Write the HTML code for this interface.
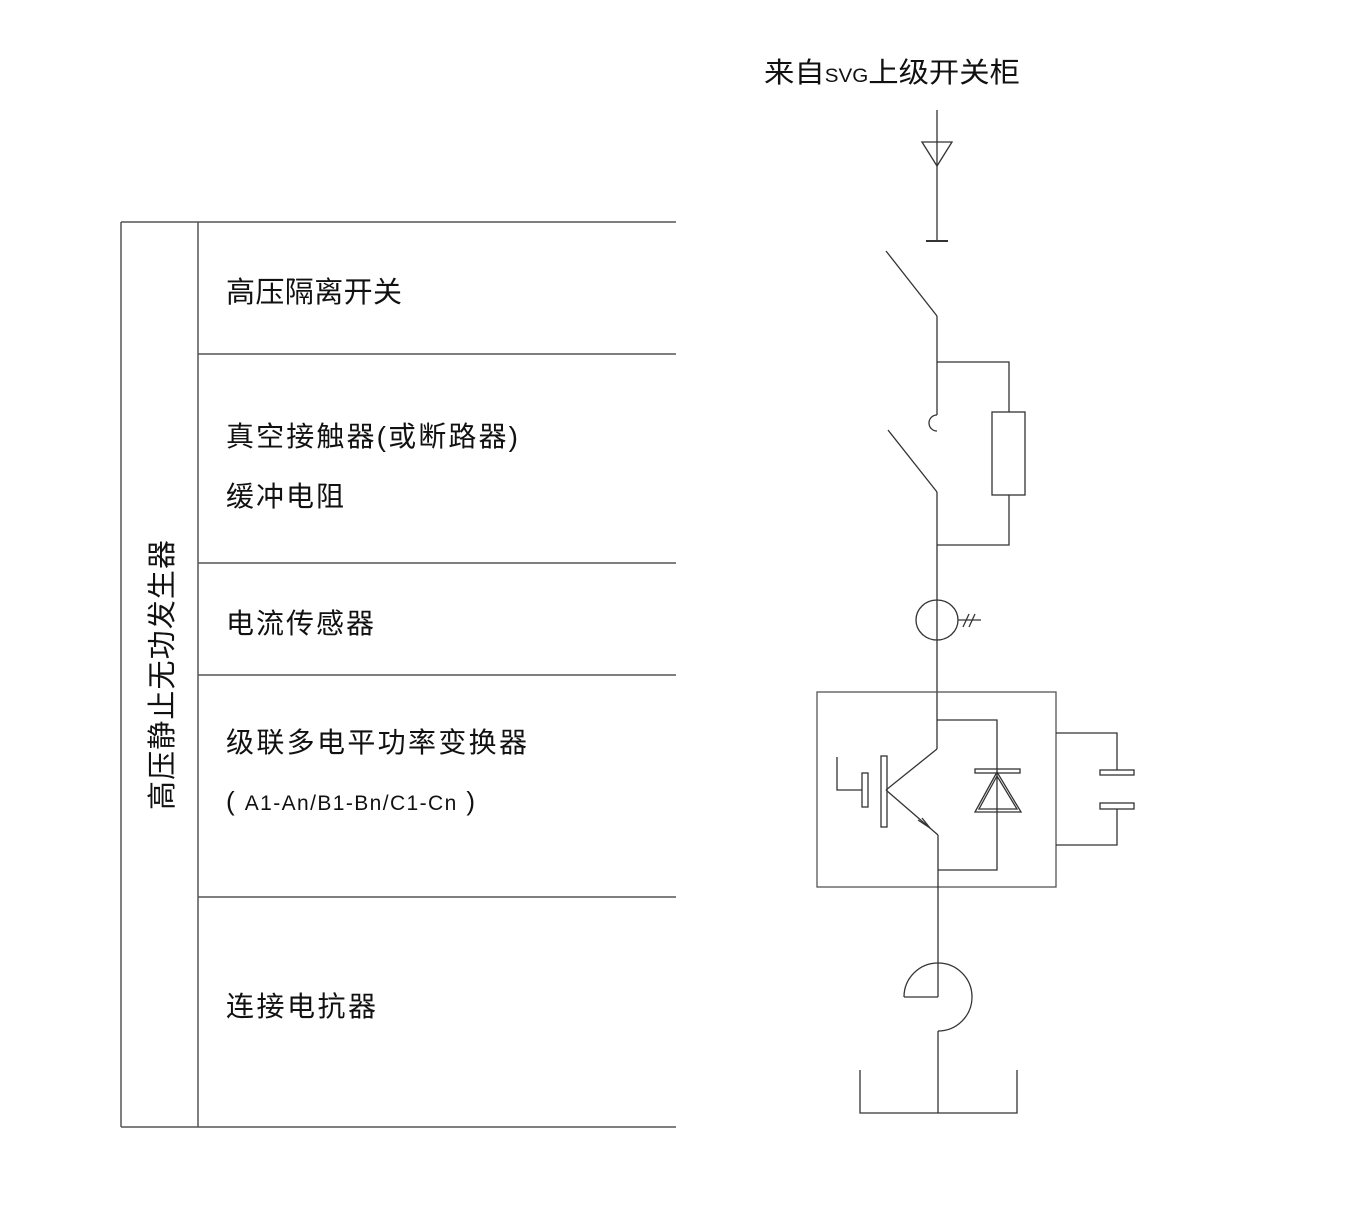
<!DOCTYPE html>
<html><head><meta charset="utf-8"><style>
html,body{margin:0;padding:0;background:#fff;}
svg{display:block;}
text{font-family:"Liberation Sans","Noto Sans CJK SC",sans-serif;fill:#111;}
</style></head><body>
<svg width="1348" height="1224" viewBox="0 0 1348 1224" xmlns="http://www.w3.org/2000/svg">
<g stroke="#555" stroke-width="1.5" fill="none">
<line x1="121" y1="222" x2="676" y2="222"/>
<line x1="121" y1="1127" x2="676" y2="1127"/>
<line x1="121" y1="222" x2="121" y2="1127"/>
<line x1="198" y1="222" x2="198" y2="1127"/>
<line x1="198" y1="354" x2="676" y2="354"/>
<line x1="198" y1="563" x2="676" y2="563"/>
<line x1="198" y1="675" x2="676" y2="675"/>
<line x1="198" y1="897" x2="676" y2="897"/>
</g>
<g stroke="#333" stroke-width="1.3" fill="none">
<line x1="937" y1="110" x2="937" y2="241"/>
<polygon points="922,142 952,142 937,166"/>
<line x1="926" y1="241" x2="948" y2="241" stroke-width="2"/>
<line x1="886" y1="251" x2="937" y2="316"/>
<line x1="937" y1="316" x2="937" y2="415"/>
<path d="M937,415 A8,8 0 0 0 937,431"/>
<polyline points="937,362 1009,362 1009,412"/>
<rect x="992" y="412" width="33" height="83"/>
<polyline points="1009,495 1009,545 937,545"/>
<line x1="888" y1="430" x2="937" y2="492"/>
<line x1="937" y1="492" x2="937" y2="749"/>
<ellipse cx="937" cy="620" rx="21" ry="20"/>
<line x1="958" y1="620" x2="981" y2="620"/>
<line x1="963" y1="627" x2="969" y2="614"/>
<line x1="969" y1="627" x2="975" y2="614"/>
<rect x="817" y="692" width="239" height="195" stroke="#555"/>
<line x1="937" y1="749" x2="886" y2="790"/>
<line x1="886" y1="790" x2="938" y2="835"/>
<polyline points="918,820 930,828 922,818"/>
<line x1="938" y1="835" x2="938" y2="997"/>
<polyline points="937,720 997,720 997,870 938,870"/>
<rect x="975" y="769" width="45" height="4"/>
<polygon points="997,772 975,812 1021,812"/>
<polygon points="997,776 979,809 1017,809"/>
<rect x="881" y="756" width="6" height="71"/>
<rect x="862" y="773" width="6" height="34"/>
<polyline points="837,757 837,790 862,790"/>
<polyline points="1056,733 1117,733 1117,770"/>
<rect x="1100" y="770" width="34" height="5"/>
<rect x="1100" y="803" width="34" height="6"/>
<polyline points="1117,809 1117,845 1056,845"/>
<line x1="904" y1="997" x2="938" y2="997"/>
<path d="M904,997 A34,34 0 1 1 938,1031"/>
<line x1="938" y1="1031" x2="938" y2="1113"/>
<polyline points="860,1070 860,1113 1017,1113 1017,1070"/>
</g>
<text x="764" y="82" font-size="28" textLength="256" lengthAdjust="spacingAndGlyphs">来自<tspan font-size="19">SVG</tspan>上级开关柜</text>
<text x="226" y="302" font-size="29" textLength="176">高压隔离开关</text>
<text x="226" y="446" font-size="28" textLength="292">真空接触器(或断路器)</text>
<text x="226" y="506" font-size="28" textLength="118">缓冲电阻</text>
<text x="226" y="633" font-size="28" textLength="148">电流传感器</text>
<text x="226" y="752" font-size="28" textLength="301">级联多电平功率变换器</text>
<text x="226" y="810" font-size="26" textLength="249">( <tspan font-size="21">A1-An/B1-Bn/C1-Cn</tspan> )</text>
<text x="226" y="1016" font-size="28" textLength="150">连接电抗器</text>
<text transform="translate(172,675) rotate(-90)" text-anchor="middle" font-size="29" textLength="270">高压静止无功发生器</text>
</svg>
</body></html>
